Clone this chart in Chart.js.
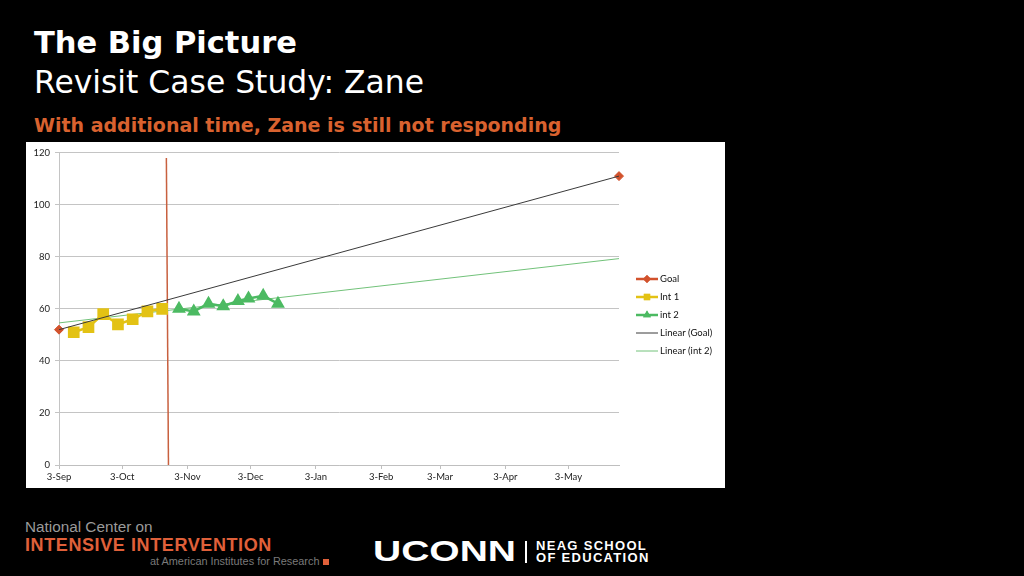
<!DOCTYPE html>
<html>
<head>
<meta charset="utf-8">
<script src="https://cdn.jsdelivr.net/npm/chart.js@4.4.1/dist/chart.umd.min.js"></script>
<style>
  body { margin: 0; width: 1024px; height: 576px; background: #000; overflow: hidden; position: relative; font-family: "DejaVu Sans", Verdana, sans-serif; }
  .t { position: absolute; white-space: nowrap; }
  #title { left: 34px; top: 25px; font-size: 30.5px; font-weight: bold; color: #fff; }
  #subtitle { left: 34px; top: 64px; font-size: 31.4px; color: #fff; }
  #note { left: 34px; top: 114px; font-size: 19px; font-weight: bold; color: #d9622f; }
  #box { position: absolute; left: 26px; top: 142px; width: 699px; height: 346px; background: #fff; }
  #ncii1 { left: 25px; top: 518px; font-family: "Liberation Sans", Arial, sans-serif; font-size: 15.3px; color: #9a9a9a; }
  #ncii2 { left: 25px; top: 535px; font-family: "Liberation Sans", Arial, sans-serif; font-size: 18px; font-weight: bold; color: #e0603a; letter-spacing: 0.6px; }
  #ncii3 { left: 150px; top: 555px; font-family: "Liberation Sans", Arial, sans-serif; font-size: 10.9px; color: #7a7a7a; }
  #sq { position: absolute; left: 323px; top: 559px; width: 6px; height: 6px; background: #e0603a; }
  #uconn { left: 373px; top: 534px; font-family: "Liberation Sans", Arial, sans-serif; font-size: 30px; font-weight: bold; color: #fff; transform-origin: left top; transform: scaleX(1.3); }
  #bar { position: absolute; left: 525px; top: 541px; width: 2px; height: 22px; background: #fff; }
  #neag1, #neag2 { left: 536px; font-family: "Liberation Sans", Arial, sans-serif; font-size: 13px; font-weight: bold; color: #fff; letter-spacing: 1.3px; }
  #neag1 { top: 538px; }
  #neag2 { top: 550px; }
</style>
</head>
<body>
<div class="t" id="title">The Big Picture</div>
<div class="t" id="subtitle">Revisit Case Study: Zane</div>
<div class="t" id="note">With additional time, Zane is still not responding</div>
<div id="box"><canvas id="chart" width="699" height="346"></canvas></div>
<div class="t" id="ncii1">National Center on</div>
<div class="t" id="ncii2">INTENSIVE INTERVENTION</div>
<div class="t" id="ncii3">at American Institutes for Research</div>
<div id="sq"></div>
<div class="t" id="uconn">UCONN</div>
<div id="bar"></div>
<div class="t" id="neag1">NEAG SCHOOL</div>
<div class="t" id="neag2">OF EDUCATION</div>
<script>
// axis range and month ticks
const axisStart = '2012-09-03';
const axisEnd = '2013-05-27';
const tickDates = ['2012-09-03', '2012-10-03', '2012-11-03', '2012-12-03', '2013-01-03', '2013-02-03', '2013-03-03', '2013-04-03', '2013-05-03'];
const tickLabels = ['3-Sep', '3-Oct', '3-Nov', '3-Dec', '3-Jan', '3-Feb', '3-Mar', '3-Apr', '3-May'];

// series
const goalDates = ['2012-09-03', '2013-05-27'];
const goalValues = [52, 111];
const int1Dates = ['2012-09-10', '2012-09-17', '2012-09-24', '2012-10-01', '2012-10-08', '2012-10-15', '2012-10-22'];
const int1Values = [51, 53, 58, 54, 56, 59, 60];
const int2Dates = ['2012-10-30', '2012-11-06', '2012-11-13', '2012-11-20', '2012-11-27', '2012-12-02', '2012-12-09', '2012-12-16'];
const int2Values = [60, 59, 62, 61, 63, 64, 65, 62];
// trendline of int 2 as read at the axis ends
const trendDates = ['2012-09-03', '2013-05-27'];
const trendInt2Values = [54.6, 79.3];
// phase change line
const phaseDates = ['2012-10-24', '2012-10-25'];
const phaseValues = [118, 0];

const DAY = 86400000;
function dayOf(s) { return (Date.parse(s) - Date.parse(axisStart)) / DAY; }
function toPoints(dates, values) { return dates.map((d, i) => ({ x: dayOf(d), y: values[i] })); }

const colors = {
    goal: '#d2522c',
    int1: '#e3c214',
    int2: '#4cba62',
    trendGoal: '#3a3a3a',
    trendInt2: '#72c27a',
    phase: '#c8603f'
};

const legendItems = [
    { text: 'Goal', color: colors.goal, width: 2.5, point: 'rectRot', radius: 4 },
    { text: 'Int 1', color: colors.int1, width: 2.5, point: 'rect', radius: 4.5 },
    { text: 'int 2', color: colors.int2, width: 2.5, point: 'triangle', radius: 4.5 },
    { text: 'Linear (Goal)', color: colors.trendGoal, width: 1 },
    { text: 'Linear (int 2)', color: colors.trendInt2, width: 1 }
];

// draws the excel-style legend (line with marker in the middle)
const excelLegend = {
    id: 'excelLegend',
    afterDraw(chart) {
        const ctx = chart.ctx;
        ctx.save();
        ctx.font = '9.5px Lato, "DejaVu Sans", sans-serif';
        ctx.textBaseline = 'middle';
        legendItems.forEach((item, i) => {
            const y = 137 + i * 18;
            ctx.strokeStyle = item.color;
            ctx.lineWidth = item.width;
            ctx.beginPath();
            ctx.moveTo(610, y);
            ctx.lineTo(632, y);
            ctx.stroke();
            if (item.point) {
                ctx.fillStyle = item.color;
                Chart.helpers.drawPoint(ctx, { pointStyle: item.point, radius: item.radius, borderWidth: 0 }, 621, y);
                ctx.fill();
            }
            ctx.fillStyle = '#111';
            ctx.fillText(item.text, 634, y);
        });
        ctx.restore();
    }
};

new Chart(document.getElementById('chart'), {
    type: 'scatter',
    data: {
        datasets: [
            {
                label: 'Goal',
                data: toPoints(goalDates, goalValues),
                showLine: false,
                pointStyle: 'rectRot',
                pointRadius: 4.5,
                backgroundColor: colors.goal,
                borderColor: colors.goal,
                clip: false,
                order: 1
            },
            {
                label: 'Int 1',
                data: toPoints(int1Dates, int1Values),
                showLine: true,
                borderColor: colors.int1,
                backgroundColor: colors.int1,
                borderWidth: 2.5,
                pointStyle: 'rect',
                pointRadius: 6.5,
                order: 2
            },
            {
                label: 'int 2',
                data: toPoints(int2Dates, int2Values),
                showLine: true,
                borderColor: colors.int2,
                backgroundColor: colors.int2,
                borderWidth: 2.5,
                pointStyle: 'triangle',
                pointRadius: 5.5,
                order: 3
            },
            {
                label: 'Linear (Goal)',
                data: toPoints(goalDates, goalValues),
                showLine: true,
                borderColor: colors.trendGoal,
                borderWidth: 1,
                pointRadius: 0,
                order: 0
            },
            {
                label: 'Linear (int 2)',
                data: toPoints(trendDates, trendInt2Values),
                showLine: true,
                borderColor: colors.trendInt2,
                borderWidth: 1,
                pointRadius: 0,
                order: 4
            },
            {
                label: 'phase',
                data: toPoints(phaseDates, phaseValues),
                showLine: true,
                borderColor: colors.phase,
                borderWidth: 1.5,
                pointRadius: 0,
                order: 5
            }
        ]
    },
    options: {
        responsive: false,
        animation: false,
        layout: { padding: { left: 0, right: 106, top: 10, bottom: 0 } },
        plugins: {
            legend: { display: false },
            tooltip: { enabled: false }
        },
        scales: {
            x: {
                type: 'linear',
                min: 0,
                max: dayOf(axisEnd),
                afterBuildTicks: s => { s.ticks = tickDates.map(d => ({ value: dayOf(d) })); },
                afterFit: s => { s.height = 23; },
                ticks: {
                    autoSkip: false,
                    maxRotation: 0,
                    padding: 2,
                    color: '#222',
                    font: { family: 'Lato, "DejaVu Sans", sans-serif', size: 9.5 },
                    callback: (v, i) => tickLabels[i]
                },
                grid: { drawOnChartArea: false, tickLength: 4, color: '#bfbfbf' },
                border: { color: '#bfbfbf' }
            },
            y: {
                min: 0,
                max: 120,
                afterFit: s => { s.width = 33; },
                ticks: {
                    stepSize: 20,
                    padding: 5,
                    color: '#222',
                    font: { family: 'Lato, "DejaVu Sans", sans-serif', size: 9.5 }
                },
                grid: { color: '#c4c4c4', tickLength: 4 },
                border: { color: '#c4c4c4' }
            }
        }
    },
    plugins: [excelLegend]
});
</script>
</body>
</html>
